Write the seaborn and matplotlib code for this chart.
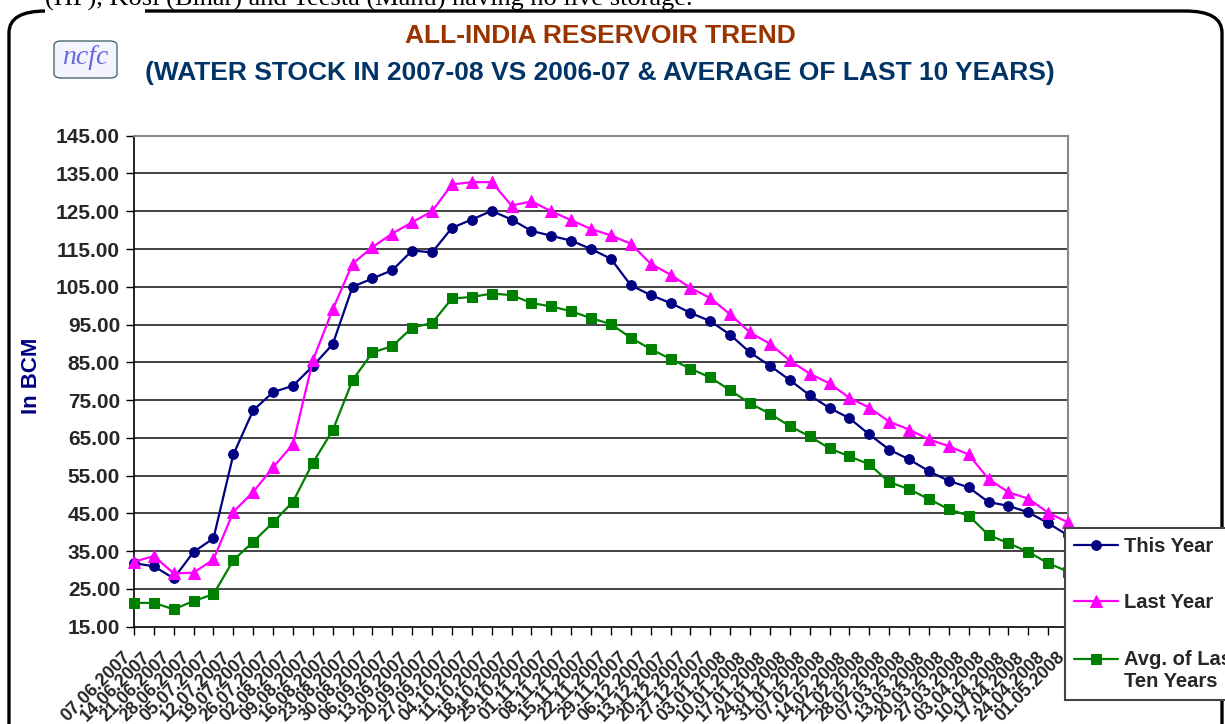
import numpy as np
import pandas as pd
import matplotlib
matplotlib.use("Agg")
import matplotlib.pyplot as plt
import matplotlib.transforms as mtransforms
from matplotlib.patches import FancyBboxPatch, Rectangle
from matplotlib.legend_handler import HandlerLine2D
import seaborn as sns

# weekly dates (x categories)
fechas = ['07.06.2007', '14.06.2007', '21.06.2007', '28.06.2007', '05.07.2007', '12.07.2007',
          '19.07.2007', '26.07.2007', '02.08.2007', '09.08.2007', '16.08.2007', '23.08.2007',
          '30.08.2007', '06.09.2007', '13.09.2007', '20.09.2007', '27.09.2007', '04.10.2007',
          '11.10.2007', '18.10.2007', '25.10.2007', '01.11.2007', '08.11.2007', '15.11.2007',
          '22.11.2007', '29.11.2007', '06.12.2007', '13.12.2007', '20.12.2007', '27.12.2007',
          '03.01.2008', '10.01.2008', '17.01.2008', '24.01.2008', '31.01.2008', '07.02.2008',
          '14.02.2008', '21.02.2008', '28.02.2008', '07.03.2008', '13.03.2008', '20.03.2008',
          '27.03.2008', '03.04.2008', '10.04.2008', '17.04.2008', '24.04.2008', '01.05.2008']

# water stock, BCM
this_year = [31.8, 31.0, 27.8, 34.8, 38.4, 60.6, 72.3, 77.1, 78.8, 84.0, 89.8, 105.0,
             107.2, 109.4, 114.6, 114.1, 120.6, 122.8, 125.1, 122.8, 119.8, 118.5, 117.2, 115.0,
             112.4, 105.4, 102.8, 100.7, 98.1, 95.9, 92.3, 87.6, 84.1, 80.3, 76.3, 72.9,
             70.2, 65.9, 61.9, 59.3, 56.2, 53.6, 51.9, 48.0, 47.0, 45.3, 42.4, 39.2]
last_year = [32.2, 33.7, 29.1, 29.3, 32.8, 45.4, 50.7, 57.2, 63.3, 85.5, 99.0, 111.1,
             115.5, 119.1, 122.1, 125.0, 132.1, 132.7, 132.7, 126.5, 127.6, 125.0, 122.6, 120.3,
             118.6, 116.4, 111.1, 108.2, 104.7, 102.0, 97.7, 92.9, 89.9, 85.5, 82.0, 79.4,
             75.6, 73.0, 69.3, 67.2, 64.6, 62.8, 60.6, 54.1, 50.6, 48.9, 45.2, 42.6]
avg_10 = [21.3, 21.3, 19.6, 21.8, 23.6, 32.6, 37.5, 42.6, 48.1, 58.4, 67.0, 80.3,
          87.6, 89.3, 94.2, 95.4, 101.9, 102.3, 103.2, 102.8, 100.7, 99.8, 98.5, 96.7,
          95.1, 91.5, 88.5, 85.9, 83.3, 81.0, 77.6, 74.1, 71.4, 68.1, 65.4, 62.2,
          60.1, 58.0, 53.3, 51.4, 48.8, 46.1, 44.4, 39.3, 37.1, 34.8, 31.8, 29.6]

series = ['This Year', 'Last Year', 'Avg. of Last\nTen Years']
colores = ['#000080', '#FF00FF', '#008000']
marcadores = ['o', '^', 's']
tamanos = [7, 9, 7]

yticks = list(range(15, 146, 10))


class HandlerArriba(HandlerLine2D):
    # handle aligned with the first line of a two-line label
    def create_artists(self, legend, orig_handle, xdescent, ydescent, width, height, fontsize, trans):
        arts = super().create_artists(legend, orig_handle, xdescent, ydescent, width, height, fontsize, trans)
        for a in arts:
            a.set_ydata(np.asarray(a.get_ydata(), dtype=float) + fontsize * 0.55)
        return arts


sns.set_theme(style='white')
plt.rcParams['font.family'] = ['Liberation Sans', 'DejaVu Sans']

fig = plt.figure(figsize=(12.25, 7.24), dpi=100)
ax = fig.add_axes([134 / 1225, (724 - 626.7) / 724, (1068 - 134) / 1225, (626.7 - 135.7) / 724])

pos = np.arange(len(fechas))
for nombre, vals, col, mk, ms in zip(series, [this_year, last_year, avg_10], colores, marcadores, tamanos):
    df = pd.DataFrame({'x': pos, 'y': vals})
    sns.lineplot(data=df, x='x', y='y', ax=ax, color=col, marker=mk, markersize=ms,
                 markeredgecolor=col, linewidth=1.6, label=nombre, clip_on=False, zorder=3)

ax.set_xlim(0, len(fechas) - 1)
ax.set_ylim(15, 145)
ax.set_yticks(yticks)
ax.set_yticklabels([f'{v:.2f}' for v in yticks], fontsize=15, fontweight='bold')
ax.set_xticks(pos)
ax.set_xticklabels(fechas, rotation=45, ha='right', va='top', rotation_mode='anchor',
                   fontsize=13, fontweight='bold')
ax.tick_params(axis='both', which='major', direction='out', length=6, width=1, color='black',
               bottom=True, left=True, pad=4)
ax.tick_params(axis='x', pad=10)
desplazar = mtransforms.ScaledTranslation(-0.12, 0, fig.dpi_scale_trans)
for lab in ax.get_xticklabels():
    lab.set_transform(lab.get_transform() + desplazar)
ax.set_xlabel('')
ax.set_ylabel('In BCM', fontsize=16, fontweight='bold', color='#000080')
ax.yaxis.set_label_coords(-0.099, 0.51)

for v in yticks[1:-1]:
    ax.axhline(v, color='#222222', linewidth=1.2, zorder=1)

for s in ['left', 'bottom']:
    ax.spines[s].set_color('black')
    ax.spines[s].set_linewidth(1.2)
for s in ['top', 'right']:
    ax.spines[s].set_color('#888888')
    ax.spines[s].set_linewidth(1.5)

ax.get_legend().remove()
handles, labels = ax.get_legend_handles_labels()
leg = fig.legend(handles, labels, loc='upper left', bbox_to_anchor=(1065 / 1225, 1 - 528 / 724),
                 prop={'weight': 'bold', 'size': 14.5}, frameon=True, fancybox=False,
                 edgecolor='#444444', handlelength=2.2, labelspacing=1.85, borderpad=0.45,
                 handletextpad=0.3, borderaxespad=0,
                 handler_map={handles[2]: HandlerArriba()})
leg.get_frame().set_linewidth(1.5)
leg.get_frame().set_alpha(1)
leg.set_zorder(10)

# outer rounded frame
marco = FancyBboxPatch((9 / 1225, -0.2), 1213 / 1225, 1 - 11 / 724 + 0.2,
                       boxstyle='round,pad=0,rounding_size=0.03', transform=fig.transFigure,
                       facecolor='none', edgecolor='black', linewidth=2.4, zorder=0)
fig.patches.append(marco)
fig.patches.append(Rectangle((45 / 1225, 1 - 16 / 724), 100 / 1225, 10 / 724,
                             transform=fig.transFigure, facecolor='white', edgecolor='none', zorder=1))

# cut-off line of document text above the chart
fig.text(45 / 1225, 1 - 6 / 724, '(HP), Kosi (Bihar) and Teesta (Manu) having no live storage.',
         fontsize=19, family='Liberation Serif', va='baseline', ha='left', color='black')

# logo
logo = FancyBboxPatch((54 / 1225, 1 - 78 / 724), 63 / 1225, 37 / 724,
                      boxstyle='round,pad=0,rounding_size=0.006', transform=fig.transFigure,
                      facecolor='#f4f4ff', edgecolor='#4a6a6a', linewidth=1.0)
fig.patches.append(logo)
fig.text(85.5 / 1225, 1 - 58 / 724, 'ncfc', fontsize=20, family='Liberation Serif',
         style='italic', color='#6868e0', ha='center', va='center')

fig.text(600 / 1225, 1 - 36 / 724, 'ALL-INDIA RESERVOIR TREND', fontsize=19,
         fontweight='bold', color='#993300', ha='center', va='center')
fig.text(600 / 1225, 1 - 73 / 724, '(WATER STOCK IN 2007-08 VS 2006-07 & AVERAGE OF LAST 10 YEARS)',
         fontsize=19, fontweight='bold', color='#003366', ha='center', va='center')

fig.savefig('out.png', dpi=100)
